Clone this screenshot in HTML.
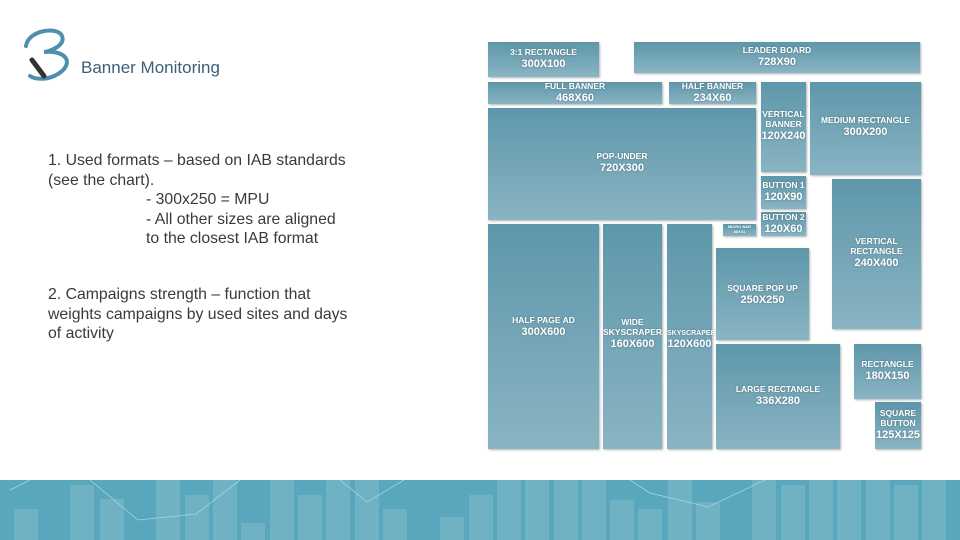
<!DOCTYPE html>
<html><head><style>
body{margin:0;width:960px;height:540px;position:relative;background:#fff;font-family:"Liberation Sans",sans-serif;overflow:hidden}
.b{position:absolute;background:linear-gradient(#5e97aa,#89b4c3);box-shadow:1px 1px 2px rgba(0,0,0,.3);color:#fff;font-weight:bold;font-size:8.5px;text-align:center;display:flex;flex-direction:column;justify-content:center;line-height:1.15;text-shadow:0 0 2px rgba(0,0,0,.3)}
.b span{font-size:11px}
.t{position:absolute;color:#3a3a3a;font-size:15.8px;line-height:19.5px}
</style></head><body>
<svg style="position:absolute;left:18px;top:24px" width="64" height="60">
<path d="M8 22 C10 6 40 2 44 12 C48 22 30 28 26 28 C50 26 56 40 40 50 C30 56 18 56 12 52" fill="none" stroke="#4f8fae" stroke-width="4" stroke-linecap="round"/>
<path d="M14 36 L26 52" stroke="#333" stroke-width="5" stroke-linecap="round"/>
</svg>
<div class="t" style="left:81px;top:58px;font-size:17px;color:#3d5f78;line-height:20px">Banner Monitoring</div>
<div class="t" style="left:48px;top:151px">1. Used formats – based on IAB standards<br>(see the chart).</div>
<div class="t" style="left:146px;top:190px">- 300x250 = MPU<br>- All other sizes are aligned<br>to the closest IAB format</div>
<div class="t" style="left:48px;top:285px">2. Campaigns strength – function that<br>weights campaigns by used sites and days<br>of activity</div>

<div class="b" style="left:488px;top:42px;width:111px;height:35px">3:1 RECTANGLE<span>300X100</span></div>
<div class="b" style="left:634px;top:42px;width:286px;height:31px">LEADER BOARD<span>728X90</span></div>
<div class="b" style="left:488px;top:82px;width:174px;height:22px">FULL BANNER<span>468X60</span></div>
<div class="b" style="left:669px;top:82px;width:87px;height:22px">HALF BANNER<span>234X60</span></div>
<div class="b" style="left:761px;top:82px;width:45px;height:90px;justify-content:flex-start"><div style="margin-top:28px">VERTICAL<br>BANNER<br><span>120X240</span></div></div>
<div class="b" style="left:810px;top:82px;width:111px;height:93px;justify-content:flex-start"><div style="margin-top:34px">MEDIUM RECTANGLE<br><span>300X200</span></div></div>
<div class="b" style="left:488px;top:108px;width:268px;height:112px;justify-content:flex-start"><div style="margin-top:44px">POP-UNDER<br><span>720X300</span></div></div>
<div class="b" style="left:761px;top:176px;width:45px;height:33px">BUTTON 1<span>120X90</span></div>
<div class="b" style="left:761px;top:212px;width:45px;height:24px">BUTTON 2<span>120X60</span></div>
<div class="b" style="left:723px;top:224px;width:33px;height:12px;font-size:4px">MICRO BAR<br>88X31</div>
<div class="b" style="left:832px;top:179px;width:89px;height:150px;justify-content:flex-start"><div style="margin-top:58px">VERTICAL<br>RECTANGLE<br><span>240X400</span></div></div>
<div class="b" style="left:488px;top:224px;width:111px;height:225px;justify-content:flex-start"><div style="margin-top:92px">HALF PAGE AD<br><span>300X600</span></div></div>
<div class="b" style="left:603px;top:224px;width:59px;height:225px;justify-content:flex-start"><div style="margin-top:94px">WIDE<br>SKYSCRAPER<br><span>160X600</span></div></div>
<div class="b" style="left:667px;top:224px;width:45px;height:225px;justify-content:flex-start;font-size:7px"><div style="margin-top:106px">SKYSCRAPER<br><span>120X600</span></div></div>
<div class="b" style="left:716px;top:248px;width:93px;height:92px;justify-content:flex-start"><div style="margin-top:36px">SQUARE POP UP<br><span>250X250</span></div></div>
<div class="b" style="left:716px;top:344px;width:124px;height:105px;justify-content:flex-start"><div style="margin-top:41px">LARGE RECTANGLE<br><span>336X280</span></div></div>
<div class="b" style="left:854px;top:344px;width:67px;height:55px">RECTANGLE<span>180X150</span></div>
<div class="b" style="left:875px;top:402px;width:46px;height:47px">SQUARE<br>BUTTON<span>125X125</span></div>

<svg style="position:absolute;left:0;top:480px" width="960" height="60">
<rect width="960" height="60" fill="#58a7bc"/>
<g fill="#fff" opacity="0.13">
<rect x="14" y="29" width="24" height="31"/><rect x="70" y="5" width="24" height="55"/><rect x="100" y="19" width="24" height="41"/><rect x="156" y="0" width="24" height="60"/><rect x="185" y="15" width="24" height="45"/><rect x="213" y="0" width="24" height="60"/><rect x="241" y="43" width="24" height="17"/><rect x="270" y="0" width="24" height="60"/><rect x="298" y="15" width="24" height="45"/><rect x="326" y="0" width="24" height="60"/><rect x="355" y="0" width="24" height="60"/><rect x="383" y="29" width="24" height="31"/><rect x="440" y="37" width="24" height="23"/><rect x="469" y="15" width="24" height="45"/><rect x="497" y="0" width="24" height="60"/><rect x="525" y="0" width="24" height="60"/><rect x="554" y="0" width="24" height="60"/><rect x="582" y="0" width="24" height="60"/><rect x="610" y="20" width="24" height="40"/><rect x="638" y="29" width="24" height="31"/><rect x="668" y="0" width="24" height="60"/><rect x="696" y="22" width="24" height="38"/><rect x="752" y="0" width="24" height="60"/><rect x="781" y="5" width="24" height="55"/><rect x="809" y="0" width="24" height="60"/><rect x="837" y="0" width="24" height="60"/><rect x="866" y="0" width="24" height="60"/><rect x="894" y="5" width="24" height="55"/><rect x="922" y="0" width="24" height="60"/>
</g>
<polyline points="10,10 30,0" fill="none" stroke="#a8d4e0" stroke-width="0.8"/>
<polyline points="90,0 138,40 196,34 240,0" fill="none" stroke="#a8d4e0" stroke-width="0.8"/>
<polyline points="340,0 367,22 404,0" fill="none" stroke="#a8d4e0" stroke-width="0.8"/>
<polyline points="630,0 650,13 708,27 765,0" fill="none" stroke="#a8d4e0" stroke-width="0.8"/>
</svg>
</body></html>
